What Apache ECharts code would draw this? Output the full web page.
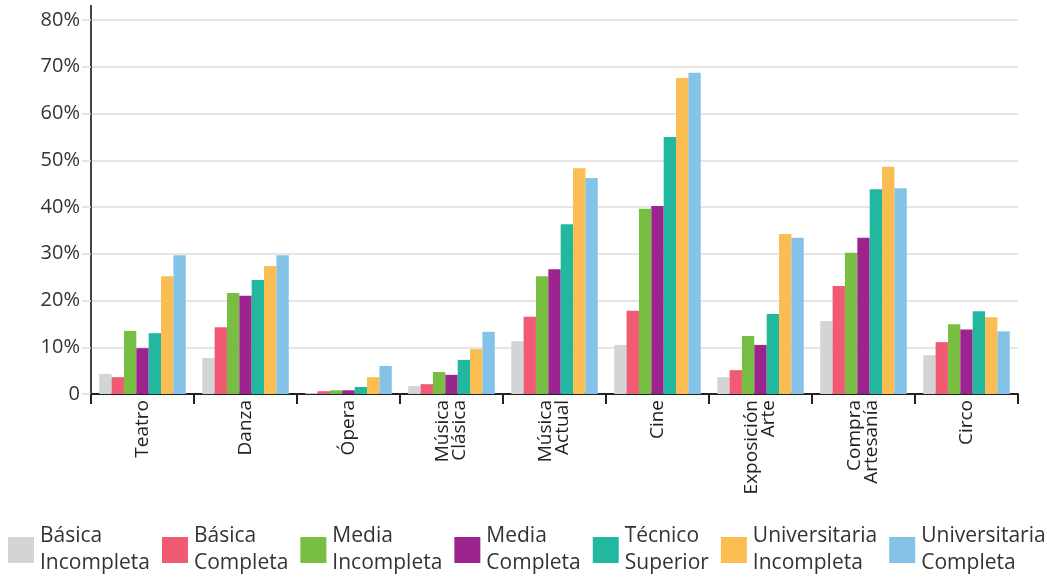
<!DOCTYPE html>
<html>
<head>
<meta charset="utf-8">
<script src="https://cdn.jsdelivr.net/npm/echarts@6/dist/echarts.min.js"></script>
<style>html,body{margin:0;padding:0;background:#fff}#c{width:1047px;height:577px}</style>
</head>
<body>
<div id="c"></div>
<script>
const categories = ['Teatro', 'Danza', 'Ópera', 'Música\nClásica', 'Música\nActual', 'Cine', 'Exposición\nArte', 'Compra\nArtesanía', 'Circo'];
const seriesNames = ['Básica Incompleta', 'Básica Completa', 'Media Incompleta', 'Media Completa', 'Técnico Superior', 'Universitaria Incompleta', 'Universitaria Completa'];
const basicaIncompleta = [4.3, 7.7, 0.2, 1.7, 11.3, 10.5, 3.6, 15.6, 8.3];
const basicaCompleta = [3.6, 14.3, 0.6, 2.1, 16.5, 17.8, 5.1, 23.1, 11.1];
const mediaIncompleta = [13.5, 21.6, 0.8, 4.7, 25.2, 39.6, 12.4, 30.2, 14.9];
const mediaCompleta = [9.8, 21.0, 0.8, 4.1, 26.7, 40.2, 10.5, 33.4, 13.8];
const tecnicoSuperior = [13.0, 24.4, 1.5, 7.3, 36.3, 55.0, 17.1, 43.8, 17.7];
const universitariaIncompleta = [25.2, 27.4, 3.6, 9.6, 48.3, 67.6, 34.2, 48.6, 16.4];
const universitariaCompleta = [29.7, 29.7, 6.0, 13.3, 46.2, 68.7, 33.4, 44.0, 13.4];
const yTicks = [0, 10, 20, 30, 40, 50, 60, 70, 80];

const values = [basicaIncompleta, basicaCompleta, mediaIncompleta, mediaCompleta, tecnicoSuperior, universitariaIncompleta, universitariaCompleta];
const colors = ['#D3D4D6', '#F05A73', '#77BE43', '#9C248E', '#22B8A0', '#F9BD52', '#85C2E8'];

const chart = echarts.init(document.getElementById('c'), null, {renderer: 'canvas'});
chart.setOption({
  animation: false,
  color: colors,
  grid: {left: 91, right: 29, top: 20, bottom: 183, containLabel: false},
  legend: {
    left: 3, top: 518, width: 1200,
    itemWidth: 26, itemHeight: 26, itemGap: 12,
    icon: 'rect',
    formatter: n => n.replace(' ', '\n'),
    textStyle: {fontFamily: 'Open Sans', fontSize: 21, lineHeight: 27, color: '#333', padding: [0, 0, 0, 1]},
    data: seriesNames
  },
  xAxis: {
    type: 'category',
    data: categories,
    axisLine: {lineStyle: {color: '#222', width: 2}},
    axisTick: {show: true, length: 10, lineStyle: {color: '#222', width: 2}},
    axisLabel: {rotate: 90, fontFamily: 'Open Sans', fontSize: 19, lineHeight: 17, color: '#222', margin: 6, interval: 0}
  },
  yAxis: {
    type: 'value',
    min: yTicks[0], max: yTicks[yTicks.length - 1], interval: 10,
    axisLine: {show: true, lineStyle: {color: '#444', width: 2}},
    axisTick: {show: true, length: 9, lineStyle: {color: '#ddd', width: 1.5}},
    splitLine: {lineStyle: {color: '#ddd', width: 1.5}},
    axisLabel: {fontFamily: 'Open Sans', fontSize: 20, color: '#333', margin: 11,
      formatter: v => v === 0 ? '0' : v + '%'}
  },
  graphic: [{type: 'line', shape: {x1: 91, y1: 5, x2: 91, y2: 20}, style: {stroke: '#444', lineWidth: 2}}],
  series: seriesNames.map((n, i) => ({
    name: n, type: 'bar', data: values[i],
    barGap: '0%', barCategoryGap: '16%'
  }))
});
</script>
</body>
</html>
